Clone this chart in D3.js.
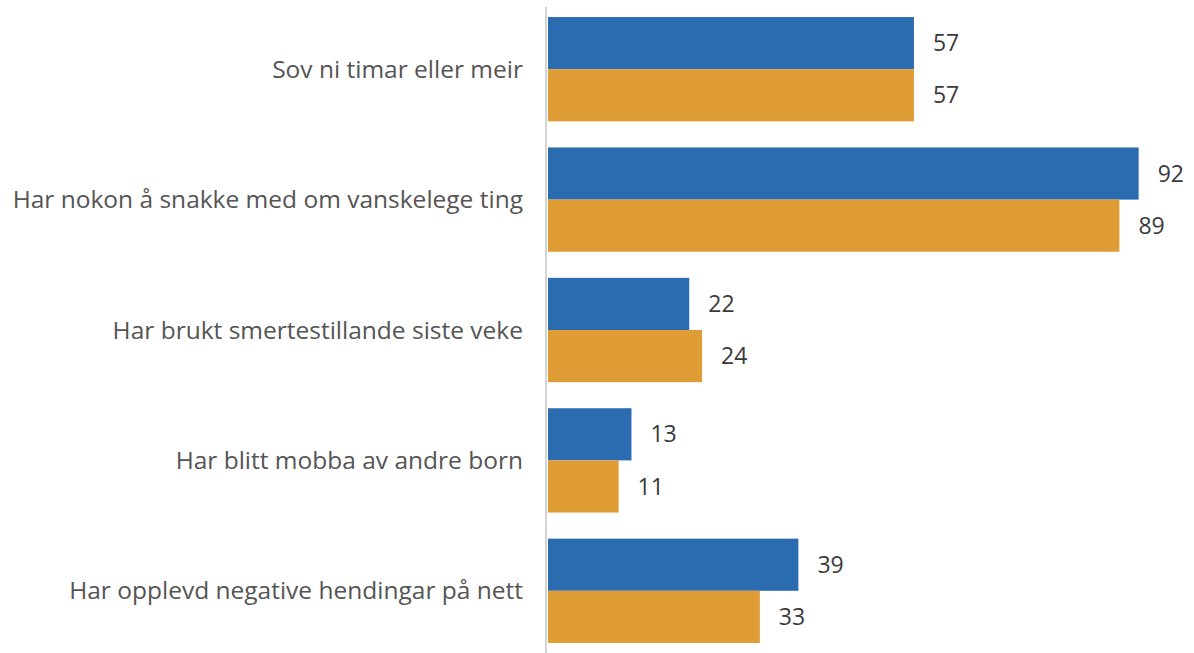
<!DOCTYPE html>
<html>
<head>
<meta charset="utf-8">
<script src="https://cdn.jsdelivr.net/npm/d3@7"></script>
<style>
  body { margin: 0; background: #fff; }
</style>
</head>
<body>
<div id="chart"></div>
<script>
// categories and the two series
const categories = [
    "Sov ni timar eller meir",
    "Har nokon å snakke med om vanskelege ting",
    "Har brukt smertestillande siste veke",
    "Har blitt mobba av andre born",
    "Har opplevd negative hendingar på nett"
];
const seriesNames = ["A", "B"];
const seriesA = [57, 92, 22, 13, 39];
const seriesB = [57, 89, 24, 11, 33];
const colors = ["#2b6cb1", "#e09d36"];

const width = 1194;
const height = 653;

const data = categories.map(function (c, i) {
    return { cat: c, values: [seriesA[i], seriesB[i]] };
});

const svg = d3.select('#chart').append('svg')
    .attr('width', width)
    .attr('height', height)
    .attr('style', 'font-family: "Open Sans", sans-serif;');

const y = d3.scaleBand()
    .domain(categories)
    .range([4, 656])
    .paddingInner(0.2)
    .paddingOuter(0.1);

const ySub = d3.scaleBand()
    .domain(seriesNames)
    .range([0, y.bandwidth()]);

const x = d3.scaleLinear()
    .domain([0, 100])
    .range([548, 1190]);

// vertical axis line
svg.append('line')
    .attr('x1', 546).attr('x2', 546)
    .attr('y1', 7).attr('y2', height)
    .attr('stroke', '#d4d4d4')
    .attr('stroke-width', 2);

const group = svg.selectAll('g.cat')
    .data(data)
    .enter()
    .append('g')
    .attr('class', 'cat')
    .attr('transform', function (d) { return 'translate(0,' + y(d.cat) + ')'; });

group.append('text')
    .attr('x', 523)
    .attr('y', y.bandwidth() / 2)
    .attr('dy', '0.35em')
    .attr('text-anchor', 'end')
    .attr('fill', '#555')
    .attr('font-size', 24.5)
    .text(function (d) { return d.cat; });

const bar = group.selectAll('g.bar')
    .data(function (d) { return d.values.map(function (v, i) { return { s: seriesNames[i], v: v, i: i }; }); })
    .enter()
    .append('g')
    .attr('class', 'bar');

bar.append('rect')
    .attr('x', x(0))
    .attr('y', function (d) { return ySub(d.s); })
    .attr('width', function (d) { return x(d.v) - x(0); })
    .attr('height', ySub.bandwidth())
    .attr('fill', function (d) { return colors[d.i]; });

bar.append('text')
    .attr('x', function (d) { return x(d.v) + 19; })
    .attr('y', function (d) { return ySub(d.s) + ySub.bandwidth() / 2; })
    .attr('dy', '0.35em')
    .attr('fill', '#3a3a3a')
    .attr('font-size', 23)
    .text(function (d) { return d.v; });
</script>
</body>
</html>
